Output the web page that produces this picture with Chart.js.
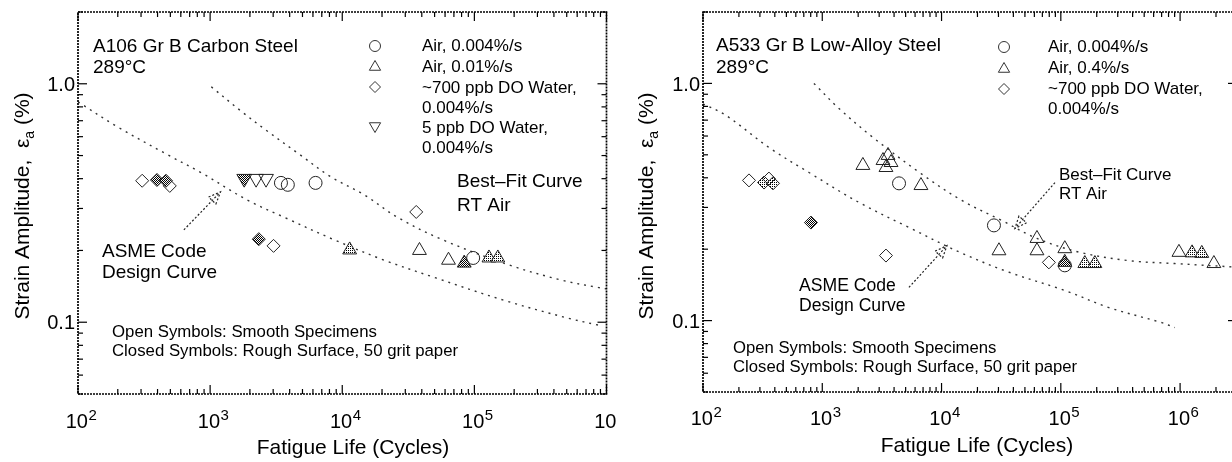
<!DOCTYPE html>
<html><head><meta charset="utf-8">
<script src="https://cdn.jsdelivr.net/npm/chart.js@4.4.0/dist/chart.umd.min.js"></script>
<style>
html,body{margin:0;padding:0;background:#fff;overflow:hidden;width:1232px;height:462px}
#wrapL{position:absolute;left:0;top:0;width:616px;height:462px;overflow:hidden}
#wrapR{position:absolute;left:616px;top:0;width:640px;height:462px}
canvas{display:block}
</style></head><body>
<div id="wrapL"><canvas id="cL" width="616" height="462"></canvas></div>
<div id="wrapR"><canvas id="cR" width="640" height="462"></canvas></div>
<script>
// ---------- text content ----------
const xTickExponents = [2, 3, 4, 5, 6];
const yTickValues = [0.1, 1.0];
const yTickLabels = ['0.1', '1.0'];
const xAxisTitle = 'Fatigue Life (Cycles)';
const yAxisTitleParts = ['Strain Amplitude,  \u03b5', 'a', ' (%)'];
const csLegendLabels = ['Air, 0.004%/s', 'Air, 0.01%/s', '~700 ppb DO Water,', '0.004%/s', '5 ppb DO Water,', '0.004%/s'];
const lasLegendLabels = ['Air, 0.004%/s', 'Air, 0.4%/s', '~700 ppb DO Water,', '0.004%/s'];

// ---------- Left panel: A106 Gr B carbon steel ----------
const csBestFitN   = [1020, 1740, 2630, 4810, 8200, 14700, 26000, 58300, 182000, 460000, 857000, 1000000];
const csBestFitEps = [0.971, 0.763, 0.641, 0.503, 0.407, 0.342, 0.276, 0.221, 0.174, 0.150, 0.140, 0.138];
const csAsmeN   = [100, 199, 479, 861, 1900, 3716, 8790, 20800, 51800, 164000, 511000, 887000];
const csAsmeEps = [0.84, 0.660, 0.503, 0.423, 0.326, 0.274, 0.221, 0.182, 0.153, 0.124, 0.104, 0.097];

const csAirSlowN   = [3436, 3873, 6280, 97900];
const csAirSlowEps = [0.384, 0.377, 0.384, 0.186];
const csAirFastN   = [38400, 63700];
const csAirFastEps = [0.200, 0.182];
const csAirFastRoughN   = [83800];
const csAirFastRoughEps = [0.177];
const csAirFastGreyN   = [11380, 129000, 150500];
const csAirFastGreyEps = [0.201, 0.186, 0.186];
const csWaterN   = [306, 495, 3020, 36300];
const csWaterEps = [0.392, 0.373, 0.209, 0.290];
const csWaterRoughN   = [396, 463, 2335];
const csWaterRoughEps = [0.395, 0.392, 0.223];
const csLowDON   = [2228, 2650];
const csLowDOEps = [0.40, 0.40];
const csLowDORoughN   = [1811];
const csLowDORoughEps = [0.40];

// ---------- Right panel: A533 Gr B low-alloy steel ----------
const lasBestFitN   = [851, 1380, 2660, 6710, 14800, 32100, 63100, 144500, 372000, 903000, 3000000];
const lasBestFitEps = [1.0, 0.784, 0.592, 0.417, 0.321, 0.264, 0.222, 0.194, 0.179, 0.174, 0.168];
const lasAsmeN   = [100, 156, 357, 774, 2030, 5330, 14260, 36700, 108000, 253000, 703000, 904000];
const lasAsmeEps = [0.82, 0.733, 0.537, 0.421, 0.315, 0.247, 0.194, 0.160, 0.134, 0.1135, 0.098, 0.0934];

const lasAirSlowN   = [4400, 27500, 108000];
const lasAirSlowEps = [0.379, 0.252, 0.171];
const lasAirFastN   = [2190, 3230, 3560, 3420, 3770, 6720, 30300, 63100, 63100, 108000, 978000, 1920000];
const lasAirFastEps = [0.451, 0.473, 0.497, 0.442, 0.464, 0.371, 0.197, 0.222, 0.197, 0.201, 0.194, 0.174];
const lasAirFastRoughN   = [108000];
const lasAirFastRoughEps = [0.176];
const lasAirFastGreyN   = [159000, 193000, 1260000, 1520000];
const lasAirFastGreyEps = [0.174, 0.174, 0.193, 0.192];
const lasWaterN   = [243, 357, 3420, 79400];
const lasWaterEps = [0.390, 0.397, 0.188, 0.176];
const lasWaterGreyN   = [325, 386];
const lasWaterGreyEps = [0.382, 0.379];
const lasWaterRoughN   = [804];
const lasWaterRoughEps = [0.259];

// ---------- helpers ----------
const FONT = '"Liberation Sans", Arial, Helvetica, sans-serif';
function pts(N, E) { return N.map((n, i) => ({ x: n, y: E[i] })); }
function makePattern(ctx, kind) {
  const c = document.createElement('canvas');
  c.width = 2; c.height = 2;
  const g = c.getContext('2d');
  g.fillStyle = '#fff'; g.fillRect(0, 0, 2, 2);
  g.fillStyle = '#000';
  g.fillRect(0, 0, 1, 1);
  if (kind === 'dark') g.fillRect(1, 1, 1, 1);
  return ctx.createPattern(c, 'repeat');
}
function curve(N, E) {
  return { data: pts(N, E), showLine: true, pointRadius: 0, pointHoverRadius: 0,
    borderColor: '#333', borderWidth: 1.4, borderDash: [2, 5], tension: 0.35, fill: false, order: 10 };
}
function sym(N, E, style, fill, r, rot) {
  return { data: pts(N, E), showLine: false, pointStyle: style, pointRadius: r, pointHoverRadius: r,
    pointRotation: rot || 0, backgroundColor: fill, borderColor: '#222', pointBackgroundColor: fill,
    pointBorderColor: '#222', pointBorderWidth: 1, order: 0 };
}
function txt(ctx, s, x, capY, size, align) {
  ctx.font = size + 'px ' + FONT; ctx.textAlign = align || 'left'; ctx.textBaseline = 'alphabetic';
  ctx.fillText(s, x, capY + size * 0.358);
}
function marker(ctx, style, x, y, r, fill) {
  ctx.beginPath();
  if (style === 'circle') ctx.arc(x, y, r, 0, 2 * Math.PI);
  else if (style === 'triangle' || style === 'triangleDown') {
    const s = style === 'triangle' ? 1 : -1;
    ctx.moveTo(x, y - s * r); ctx.lineTo(x + r * 0.866, y + s * r * 0.5); ctx.lineTo(x - r * 0.866, y + s * r * 0.5); ctx.closePath();
  } else if (style === 'diamond') {
    ctx.moveTo(x - r, y); ctx.lineTo(x, y - r); ctx.lineTo(x + r, y); ctx.lineTo(x, y + r); ctx.closePath();
  }
  if (fill) { ctx.fillStyle = fill; ctx.fill(); }
  ctx.stroke();
}
function seg(ctx, x1, y1, x2, y2) { ctx.beginPath(); ctx.moveTo(x1, y1); ctx.lineTo(x2, y2); ctx.stroke(); }

function panelPlugin(P) {
  return {
    id: 'panel',
    afterDraw(chart) {
      const ctx = chart.ctx, a = chart.chartArea, xs = chart.scales.x, ys = chart.scales.y, ox = P.offsetX;
      ctx.save();
      ctx.fillStyle = '#000'; ctx.strokeStyle = '#000';
      // frame
      ctx.lineWidth = 1.7; ctx.setLineDash([2, 1]);
      ctx.strokeRect(a.left, a.top, a.right - a.left, a.bottom - a.top);
      ctx.setLineDash([]); ctx.lineWidth = 1.2;
      // x ticks (bottom and top, inward)
      for (let d = 2; d <= 6; d++) for (let m = 1; m <= 9; m++) {
        const v = m * Math.pow(10, d);
        if (v < xs.min * 0.999 || v > xs.max * 1.001) continue;
        const px = xs.getPixelForValue(v), L = m === 1 ? 9 : 5;
        seg(ctx, px, a.bottom, px, a.bottom - L); seg(ctx, px, a.top, px, a.top + L);
      }
      // y ticks (left and right, inward)
      for (let d = -2; d <= 0; d++) for (let m = 1; m <= 9; m++) {
        const v = m * Math.pow(10, d);
        if (v < ys.min * 0.999 || v > ys.max * 1.001) continue;
        const py = ys.getPixelForValue(v), L = m === 1 ? 9 : 5;
        seg(ctx, a.left, py, a.left + L, py); seg(ctx, a.right, py, a.right - L, py);
      }
      // x tick labels 10^n
      xTickExponents.forEach(e => {
        const px = xs.getPixelForValue(Math.pow(10, e)) + 3;
        ctx.font = '20px ' + FONT; const w1 = ctx.measureText('10').width;
        ctx.font = '15px ' + FONT; const w2 = ctx.measureText(String(e)).width;
        const x0 = px - (w1 + w2) / 2;
        ctx.textAlign = 'left'; ctx.textBaseline = 'alphabetic';
        ctx.font = '20px ' + FONT; ctx.fillText('10', x0, P.xLabelBase);
        ctx.font = '15px ' + FONT; ctx.fillText(String(e), x0 + w1 + 0.5, P.xLabelBase - 8);
      });
      // y tick labels
      yTickValues.forEach((v, i) => {
        txt(ctx, yTickLabels[i], a.left - 3, ys.getPixelForValue(v), 20, 'right');
      });
      // x title
      txt(ctx, xAxisTitle, P.xTitleX - ox, P.xTitleY, 21, 'center');
      // y title (rotated, with subscript)
      ctx.save();
      ctx.translate(P.yTitleX - ox, P.yTitleY); ctx.rotate(-Math.PI / 2);
      ctx.font = '21px ' + FONT; const t1 = ctx.measureText(yAxisTitleParts[0]).width, t3 = ctx.measureText(yAxisTitleParts[2]).width;
      ctx.font = '14px ' + FONT; const t2 = ctx.measureText(yAxisTitleParts[1]).width;
      let sx = -(t1 + t2 + t3) / 2; const base = 21 * 0.358;
      ctx.textAlign = 'left'; ctx.textBaseline = 'alphabetic';
      ctx.font = '21px ' + FONT; ctx.fillText(yAxisTitleParts[0], sx, base); sx += t1;
      ctx.font = '14px ' + FONT; ctx.fillText(yAxisTitleParts[1], sx, base + 5); sx += t2;
      ctx.font = '21px ' + FONT; ctx.fillText(yAxisTitleParts[2], sx, base);
      ctx.restore();
      // annotation texts
      P.texts.forEach(t => txt(ctx, t.s, t.x - ox, t.y, t.f));
      // legend
      ctx.lineWidth = 1; ctx.strokeStyle = '#333';
      P.legend.markers.forEach(m => marker(ctx, m.style, P.legend.mx - ox, m.y, m.r, null));
      ctx.fillStyle = '#000';
      P.legend.labels.forEach((s, i) => txt(ctx, s, P.legend.tx - ox, P.legend.ty[i], 17));
      // arrows (positions in data coordinates)
      ctx.strokeStyle = '#222'; ctx.lineWidth = 1.2;
      P.arrows.forEach(ar => {
        const x1 = xs.getPixelForValue(ar.from[0]), y1 = ys.getPixelForValue(ar.from[1]);
        const x2 = xs.getPixelForValue(ar.to[0]), y2 = ys.getPixelForValue(ar.to[1]);
        ctx.setLineDash([2, 2]); seg(ctx, x1, y1, x2, y2);
        const ang = Math.atan2(y2 - y1, x2 - x1), L = 13;
        ctx.beginPath();
        ctx.moveTo(x2 - L * Math.cos(ang - 0.4), y2 - L * Math.sin(ang - 0.4));
        ctx.lineTo(x2, y2);
        ctx.lineTo(x2 - L * Math.cos(ang + 0.4), y2 - L * Math.sin(ang + 0.4));
        ctx.closePath(); ctx.stroke();
        ctx.setLineDash([]);
      });
      ctx.restore();
    }
  };
}

function buildChart(P) {
  const cv = document.getElementById(P.canvas);
  const ctx = cv.getContext('2d');
  const dark = makePattern(ctx, 'dark'), grey = makePattern(ctx, 'grey');
  const datasets = P.makeDatasets(dark, grey);
  return new Chart(cv, {
    type: 'scatter',
    data: { datasets },
    options: {
      responsive: false, animation: false, devicePixelRatio: 1,
      layout: { padding: { top: P.areaTop, right: P.width - (P.areaRight - P.offsetX), left: 0, bottom: 0 } },
      plugins: { legend: { display: false }, tooltip: { enabled: false } },
      scales: {
        x: { type: 'logarithmic', min: 100, max: P.xMax, ticks: { display: false }, grid: { display: false }, border: { display: false },
             afterFit: s => { s.height = 462 - P.areaBottom; } },
        y: { type: 'logarithmic', min: 0.05, max: 2, ticks: { display: false }, grid: { display: false }, border: { display: false },
             afterFit: s => { s.width = P.areaLeft - P.offsetX; } }
      }
    },
    plugins: [panelPlugin(P)]
  });
}

const OPEN = 'rgba(0,0,0,0)';

buildChart({
  canvas: 'cL', offsetX: 0, width: 616, areaLeft: 78, areaRight: 612, areaTop: 12, areaBottom: 394, xMax: 1e6,
  xLabelBase: 428, xTitleX: 353, xTitleY: 446.5, yTitleX: 21, yTitleY: 206,
  makeDatasets: (dark, grey) => [
    curve(csBestFitN, csBestFitEps), curve(csAsmeN, csAsmeEps),
    sym(csAirSlowN, csAirSlowEps, 'circle', OPEN, 6.5),
    sym(csAirFastN, csAirFastEps, 'triangle', OPEN, 8),
    sym(csAirFastRoughN, csAirFastRoughEps, 'triangle', dark, 8),
    sym(csAirFastGreyN, csAirFastGreyEps, 'triangle', grey, 8),
    sym(csWaterN, csWaterEps, 'rectRot', OPEN, 6.5),
    sym(csWaterRoughN, csWaterRoughEps, 'rectRot', dark, 6.5),
    sym(csLowDON, csLowDOEps, 'triangle', OPEN, 8.5, 180),
    sym(csLowDORoughN, csLowDORoughEps, 'triangle', dark, 8.5, 180)
  ],
  texts: [
    { s: 'A106 Gr B Carbon Steel', x: 93, y: 45.5, f: 19 },
    { s: '289\u00b0C', x: 93, y: 66, f: 19 },
    { s: 'Best\u2013Fit Curve', x: 457, y: 180.5, f: 19 },
    { s: 'RT Air', x: 457, y: 204, f: 19 },
    { s: 'ASME Code', x: 102, y: 250, f: 19 },
    { s: 'Design Curve', x: 102, y: 271.5, f: 19 },
    { s: 'Open Symbols: Smooth Specimens', x: 112, y: 331, f: 16.8 },
    { s: 'Closed Symbols: Rough Surface, 50 grit paper', x: 112, y: 349.5, f: 16.8 }
  ],
  legend: {
    mx: 375, tx: 422, labels: csLegendLabels, ty: [45, 66, 87, 107, 127, 147],
    markers: [ { style: 'circle', y: 46, r: 5.5 }, { style: 'triangle', y: 67, r: 6.5 },
               { style: 'diamond', y: 87, r: 5.5 }, { style: 'triangleDown', y: 126, r: 6.5 } ]
  },
  arrows: [ { from: [633, 0.244], to: [1199, 0.352] } ]
});

buildChart({
  canvas: 'cR', offsetX: 616, width: 640, areaLeft: 703, areaRight: 1237, areaTop: 12, areaBottom: 392, xMax: 3e6,
  xLabelBase: 425, xTitleX: 977, xTitleY: 444.5, yTitleX: 645, yTitleY: 206,
  makeDatasets: (dark, grey) => [
    curve(lasBestFitN, lasBestFitEps), curve(lasAsmeN, lasAsmeEps),
    sym(lasAirSlowN, lasAirSlowEps, 'circle', OPEN, 6.5),
    sym(lasAirFastN, lasAirFastEps, 'triangle', OPEN, 8),
    sym(lasAirFastRoughN, lasAirFastRoughEps, 'triangle', dark, 8),
    sym(lasAirFastGreyN, lasAirFastGreyEps, 'triangle', grey, 8),
    sym(lasWaterN, lasWaterEps, 'rectRot', OPEN, 6.5),
    sym(lasWaterGreyN, lasWaterGreyEps, 'rectRot', grey, 6.5),
    sym(lasWaterRoughN, lasWaterRoughEps, 'rectRot', dark, 6.5)
  ],
  texts: [
    { s: 'A533 Gr B Low-Alloy Steel', x: 716, y: 44.5, f: 19 },
    { s: '289\u00b0C', x: 716, y: 66, f: 19 },
    { s: 'Best\u2013Fit Curve', x: 1059, y: 173.5, f: 17 },
    { s: 'RT Air', x: 1059, y: 192.5, f: 17 },
    { s: 'ASME Code', x: 799, y: 285, f: 17.6 },
    { s: 'Design Curve', x: 799, y: 305, f: 17.6 },
    { s: 'Open Symbols: Smooth Specimens', x: 733, y: 347, f: 16.7 },
    { s: 'Closed Symbols: Rough Surface, 50 grit paper', x: 733, y: 366, f: 16.7 }
  ],
  legend: {
    mx: 1004, tx: 1048, labels: lasLegendLabels, ty: [45.5, 66.5, 87.5, 107.5],
    markers: [ { style: 'circle', y: 47, r: 5.5 }, { style: 'triangle', y: 69, r: 6.5 },
               { style: 'diamond', y: 89, r: 5.5 } ]
  },
  arrows: [ { from: [89300, 0.382], to: [41200, 0.2445] }, { from: [5330, 0.138], to: [11100, 0.207] } ]
});
</script></body></html>
